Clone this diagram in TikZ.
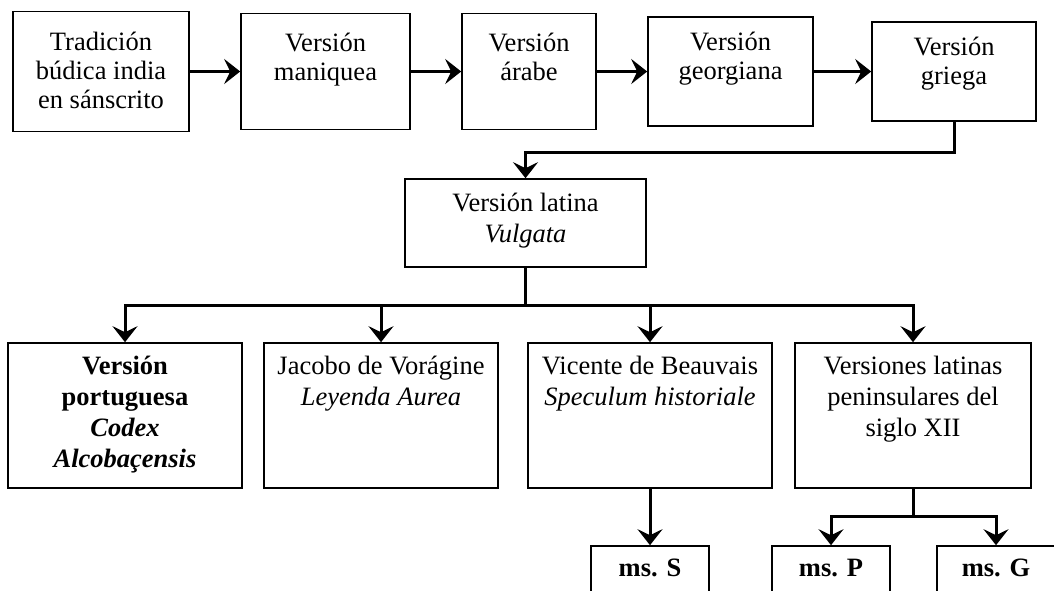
\documentclass[tikz,border=0pt]{standalone}
\usepackage{fontspec}
\setmainfont{Liberation Serif}
\usetikzlibrary{positioning}
\usetikzlibrary{arrows.meta}

\tikzset{
  caja/.style={draw, line width=1.6pt, inner sep=0pt},
  texto/.style={align=center, inner sep=0pt, font=\fontsize{26.5}{31}\selectfont},
  textoarriba/.style={texto, font=\fontsize{26.5}{29}\selectfont},
  flecha/.style={line width=3pt, -{Stealth[length=16pt,width=25pt,inset=6pt]}}
}

\begin{document}
\begin{tikzpicture}[x=1pt,y=-1pt]
\useasboundingbox (0,0) rectangle (1054,590);
\clip (0,0) rectangle (1054,590);

\node[caja, minimum width=176, minimum height=120] (trad) at (101,71.5) {};
\node[caja, minimum width=169, minimum height=116] (maniq) at (325.5,71.5) {};
\node[caja, minimum width=134, minimum height=116] (arabe) at (529,71.5) {};
\node[caja, minimum width=165, minimum height=109] (georg) at (730.5,71.5) {};
\node[caja, minimum width=164, minimum height=99] (griega) at (954,71.5) {};
\node[caja, minimum width=241, minimum height=88] (latina) at (525.5,223) {};
\node[caja, minimum width=234, minimum height=145] (port) at (125,415.5) {};
\node[caja, minimum width=234, minimum height=145] (jacobo) at (381,415.5) {};
\node[caja, minimum width=244, minimum height=145] (vicente) at (650,415.5) {};
\node[caja, minimum width=236, minimum height=145] (peninsular) at (913,415.5) {};
\node[caja, minimum width=118, minimum height=60] (msS) at (650,576) {};
\node[caja, minimum width=118, minimum height=60] (msP) at (831,576) {};
\node[caja, minimum width=118, minimum height=60] (msG) at (996,576) {};

\node[textoarriba, below=21pt of trad.north] (tradt) {Tradición\\búdica india\\en sánscrito};
\node[textoarriba, below=20pt of maniq.north] (maniqt) {Versión\\maniquea};
\node[textoarriba, below=20pt of arabe.north] (arabet) {Versión\\árabe};
\node[textoarriba, below=16pt of georg.north] (georgt) {Versión\\georgiana};
\node[textoarriba, below=16pt of griega.north] (griegat) {Versión\\griega};
\node[texto, below=15pt of latina.north] (latinat) {Versión latina\\\textit{Vulgata}};
\node[texto, below=14pt of port.north] (portt) {\textbf{Versión}\\\textbf{portuguesa}\\\textbf{\textit{Codex}}\\\textbf{\textit{Alcobaçensis}}};
\node[texto, below=14pt of jacobo.north] (jacobot) {Jacobo de Vorágine\\\textit{Leyenda Aurea}};
\node[texto, below=14pt of vicente.north] (vicentet) {Vicente de Beauvais\\\textit{Speculum historiale}};
\node[texto, below=14pt of peninsular.north] (peninsulart) {Versiones latinas\\peninsulares del\\siglo XII};
\node[texto, below=14pt of msS.north] (msSt) {\textbf{ms. S}};
\node[texto, below=14pt of msP.north] (msPt) {\textbf{ms. P}};
\node[texto, below=14pt of msG.north] (msGt) {\textbf{ms. G}};

\draw[flecha] (trad.east) -- (maniq.west);
\draw[flecha] (maniq.east) -- (arabe.west);
\draw[flecha] (arabe.east) -- (georg.west);
\draw[flecha] (georg.east) -- (griega.west);
\draw[flecha] (griega.south) -- ++(0,31) -| (latina.north);

\draw[flecha] (latina.south) -- ++(0,38) -| (port.north);
\draw[flecha] (latina.south) -- ++(0,38) -| (jacobo.north);
\draw[flecha] (latina.south) -- ++(0,38) -| (vicente.north);
\draw[flecha] (latina.south) -- ++(0,38) -| (peninsular.north);

\draw[flecha] (vicente.south) -- (msS.north);
\draw[flecha] (peninsular.south) -- ++(0,28) -| (msP.north);
\draw[flecha] (peninsular.south) -- ++(0,28) -| (msG.north);
\end{tikzpicture}
\end{document}
